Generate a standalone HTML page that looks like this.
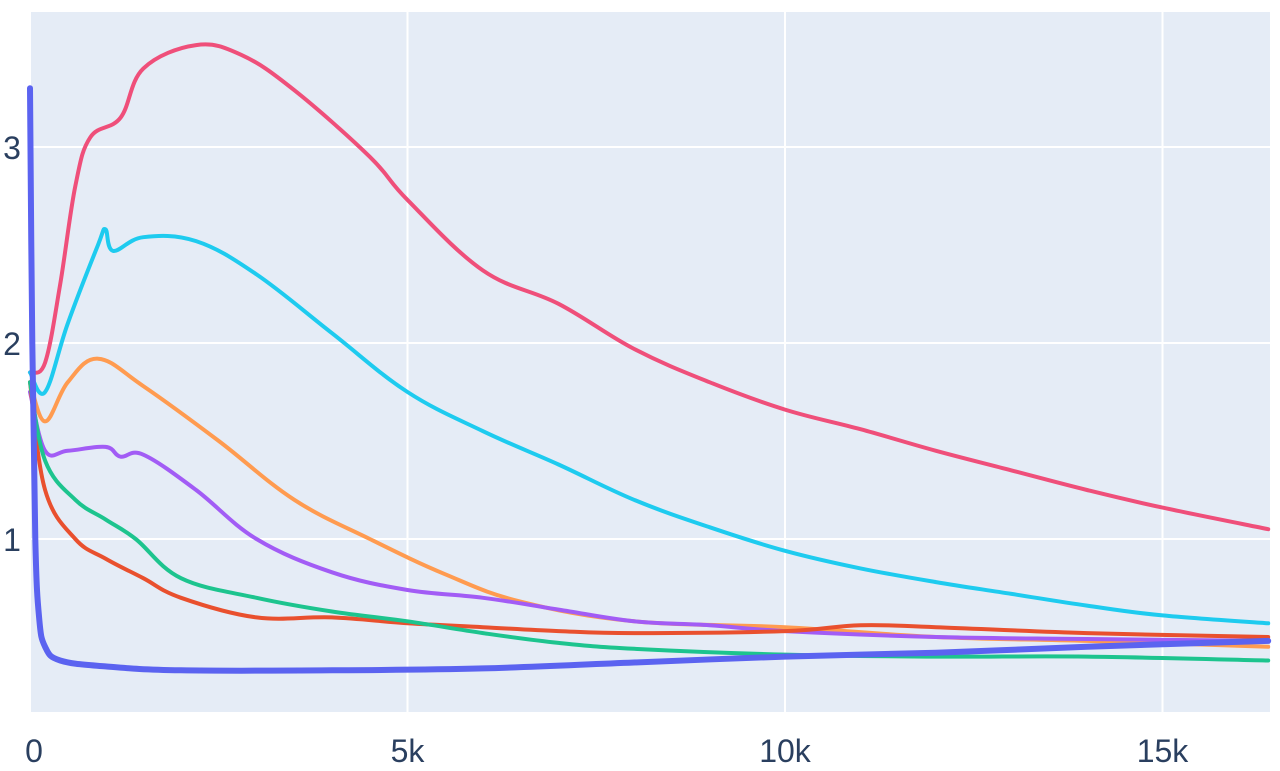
<!DOCTYPE html>
<html><head><meta charset="utf-8"><style>
html,body{margin:0;padding:0;background:#fff;}
svg{display:block;}
text{font-family:"Liberation Sans",sans-serif;fill:#2a3f5f;}
</style></head><body>
<svg id="chart" width="1280" height="771"></svg>
<script>
const xTicks=[0,5,10,15];
const xTickLabels=["0","5k","10k","15k"];
const yTicks=[1,2,3];
const yTickLabels=["1","2","3"];
const pinkX=[0,0.2,0.4,0.6,0.8,1.2,1.5,2.2,2.8,3.5,4.5,5,6,7,8,9,10,11,12,13,14,15,16.4];
const pinkY=[1.85,1.9,2.3,2.8,3.05,3.15,3.4,3.52,3.47,3.29,2.95,2.73,2.37,2.2,1.97,1.8,1.66,1.56,1.45,1.35,1.25,1.16,1.05];
const cyanX=[0,0.2,0.5,0.9,1,1.1,1.5,2.2,3,4,5,6,7,8,9,10,11,12,13,14,15,16.4];
const cyanY=[1.85,1.75,2.1,2.5,2.58,2.47,2.54,2.52,2.35,2.05,1.75,1.55,1.38,1.2,1.06,0.94,0.85,0.78,0.72,0.66,0.61,0.57];
const orangeX=[0,0.2,0.5,0.9,1.5,2.5,3.5,4.5,5.5,6.5,8,10,12,14,16.4];
const orangeY=[1.8,1.6,1.8,1.92,1.78,1.5,1.2,1.0,0.82,0.68,0.58,0.55,0.5,0.48,0.45];
const purpleX=[0,0.2,0.5,1,1.2,1.5,2.2,3,4,5,6,7,8,9,10,12,14,16.4];
const purpleY=[1.75,1.45,1.45,1.47,1.42,1.43,1.25,1.0,0.83,0.74,0.7,0.64,0.58,0.56,0.53,0.5,0.49,0.48];
const greenX=[0,0.2,0.6,1,1.4,2,3,4,5,6,7,8,10,12,14,16.4];
const greenY=[1.8,1.4,1.2,1.1,1.0,0.8,0.7,0.63,0.58,0.52,0.47,0.44,0.41,0.4,0.4,0.38];
const redX=[0,0.2,0.6,1,1.5,2,3,4,5,6,7,8,10,11,12,14,16.4];
const redY=[1.8,1.25,1.0,0.9,0.8,0.7,0.6,0.6,0.57,0.55,0.53,0.52,0.53,0.56,0.55,0.52,0.5];
const blueX=[0,0.03,0.07,0.12,0.2,0.4,1,2,4,6,8,10,12,14,16.4];
const blueY=[3.3,2.0,1.0,0.6,0.45,0.38,0.35,0.33,0.33,0.34,0.37,0.4,0.42,0.45,0.48];

const L=31,R=1270,T=12,B=712;
const xs=v=>30+v*75.5;
const ys=v=>735-v*196;
const NS="http://www.w3.org/2000/svg";
const svg=document.getElementById('chart');
function mk(tag,attrs){const e=document.createElementNS(NS,tag);for(const k in attrs)e.setAttribute(k,attrs[k]);svg.appendChild(e);return e;}
function smooth(P){
  let d='M'+P[0][0].toFixed(1)+','+P[0][1].toFixed(1);
  for(let i=0;i<P.length-1;i++){
    const p0=P[i-1]||P[i],p1=P[i],p2=P[i+1],p3=P[i+2]||p2;
    const t=0.18;
    const c1x=p1[0]+(p2[0]-p0[0])*t,c1y=p1[1]+(p2[1]-p0[1])*t;
    const c2x=p2[0]-(p3[0]-p1[0])*t,c2y=p2[1]-(p3[1]-p1[1])*t;
    d+='C'+c1x.toFixed(1)+','+c1y.toFixed(1)+' '+c2x.toFixed(1)+','+c2y.toFixed(1)+' '+p2[0].toFixed(1)+','+p2[1].toFixed(1);
  }
  return d;
}
const bg=mk('rect',{x:L,y:T,width:R-L,height:B-T,fill:'#e5ecf6'});


xTicks.forEach((t,i)=>{
  if(t>0){const g=mk('line',{x1:xs(t),x2:xs(t),y1:T,y2:B,stroke:'#fff','stroke-width':2});
  
  }
  const lb=mk('text',{x:xs(t)+(t===0?4:0),y:762,'font-size':32,'text-anchor':'middle'});
  lb.textContent=xTickLabels[i];
  
  
});
yTicks.forEach((t,i)=>{
  const g=mk('line',{x1:L,x2:R,y1:ys(t),y2:ys(t),stroke:'#fff','stroke-width':2});
  
  
  const lb=mk('text',{x:12,y:ys(t)+12,'font-size':32,'text-anchor':'middle'});
  lb.textContent=yTickLabels[i];
  
  
});
const series=[
 ['pink-series',pinkX,pinkY,'#ef4f7a',4],
 ['cyan-series',cyanX,cyanY,'#1ecbef',4],
 ['orange-series',orangeX,orangeY,'#ff9b50',4],
 ['purple-series',purpleX,purpleY,'#a25cf5',4],
 ['red-series',redX,redY,'#e9502e',4],
 ['green-series',greenX,greenY,'#1dc48e',4],
 ['blue-series',blueX,blueY,'#5b63f0',6]
];
series.forEach(([name,X,Y,c,w])=>{
  const P=X.map((x,i)=>[xs(x),ys(Y[i])]);
  const p=mk('path',{d:smooth(P),fill:'none',stroke:c,'stroke-width':w,'stroke-linejoin':'round','stroke-linecap':'round'});
  
  
});
</script>
</body></html>
